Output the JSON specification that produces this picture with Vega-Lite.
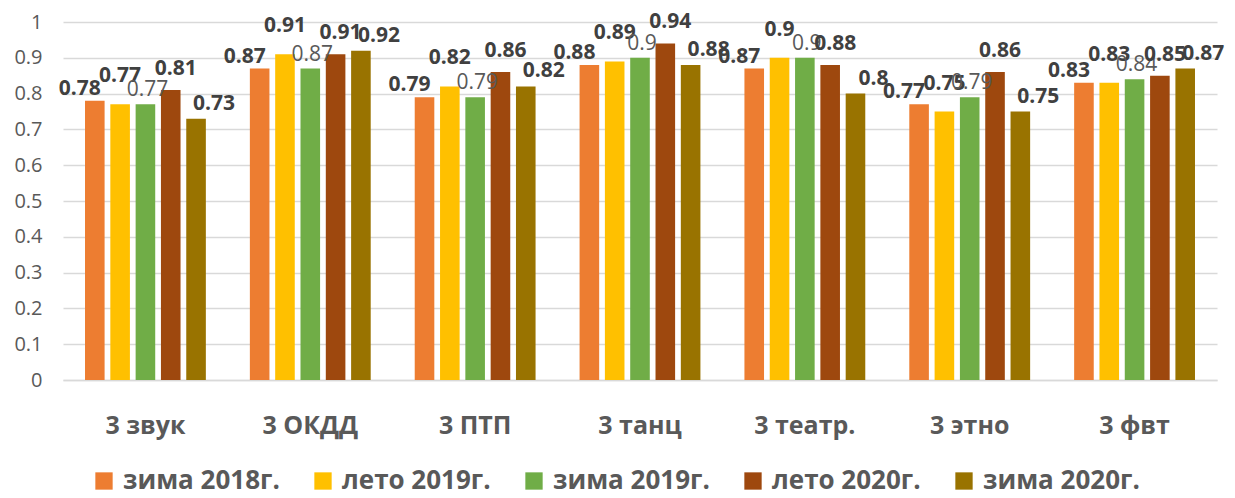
{
  "$schema": "https://vega.github.io/schema/vega-lite/v6.json",
  "width": 1154,
  "height": 358,
  "autosize": "none",
  "padding": {"left": 63, "top": 22, "right": 18, "bottom": 118},
  "background": "white",
  "config": {
    "font": "Open Sans",
    "view": {"stroke": null}
  },
  "data": {
    "values": [
      {"group": "3 звук", "series": "зима 2018г.", "value": 0.78},
      {"group": "3 звук", "series": "лето 2019г.", "value": 0.77},
      {"group": "3 звук", "series": "зима 2019г.", "value": 0.77},
      {"group": "3 звук", "series": "лето 2020г.", "value": 0.81},
      {"group": "3 звук", "series": "зима 2020г.", "value": 0.73},
      {"group": "3 ОКДД", "series": "зима 2018г.", "value": 0.87},
      {"group": "3 ОКДД", "series": "лето 2019г.", "value": 0.91},
      {"group": "3 ОКДД", "series": "зима 2019г.", "value": 0.87},
      {"group": "3 ОКДД", "series": "лето 2020г.", "value": 0.91},
      {"group": "3 ОКДД", "series": "зима 2020г.", "value": 0.92},
      {"group": "3 ПТП", "series": "зима 2018г.", "value": 0.79},
      {"group": "3 ПТП", "series": "лето 2019г.", "value": 0.82},
      {"group": "3 ПТП", "series": "зима 2019г.", "value": 0.79},
      {"group": "3 ПТП", "series": "лето 2020г.", "value": 0.86},
      {"group": "3 ПТП", "series": "зима 2020г.", "value": 0.82},
      {"group": "3 танц", "series": "зима 2018г.", "value": 0.88},
      {"group": "3 танц", "series": "лето 2019г.", "value": 0.89},
      {"group": "3 танц", "series": "зима 2019г.", "value": 0.9},
      {"group": "3 танц", "series": "лето 2020г.", "value": 0.94},
      {"group": "3 танц", "series": "зима 2020г.", "value": 0.88},
      {"group": "3 театр.", "series": "зима 2018г.", "value": 0.87},
      {"group": "3 театр.", "series": "лето 2019г.", "value": 0.9},
      {"group": "3 театр.", "series": "зима 2019г.", "value": 0.9},
      {"group": "3 театр.", "series": "лето 2020г.", "value": 0.88},
      {"group": "3 театр.", "series": "зима 2020г.", "value": 0.8},
      {"group": "3 этно", "series": "зима 2018г.", "value": 0.77},
      {"group": "3 этно", "series": "лето 2019г.", "value": 0.75},
      {"group": "3 этно", "series": "зима 2019г.", "value": 0.79},
      {"group": "3 этно", "series": "лето 2020г.", "value": 0.86},
      {"group": "3 этно", "series": "зима 2020г.", "value": 0.75},
      {"group": "3 фвт", "series": "зима 2018г.", "value": 0.83},
      {"group": "3 фвт", "series": "лето 2019г.", "value": 0.83},
      {"group": "3 фвт", "series": "зима 2019г.", "value": 0.84},
      {"group": "3 фвт", "series": "лето 2020г.", "value": 0.85},
      {"group": "3 фвт", "series": "зима 2020г.", "value": 0.87}
    ]
  },
  "encoding": {
    "x": {
      "field": "group",
      "type": "nominal",
      "sort": null,
      "title": null,
      "scale": {"paddingInner": 0.267, "paddingOuter": 0.1335},
      "axis": {
        "labelAngle": 0,
        "labelFont": "Open Sans",
        "labelFontSize": 25,
        "labelFontWeight": "bold",
        "labelColor": "#595959",
        "labelBaseline": "alphabetic",
        "labelPadding": 53,
        "ticks": false,
        "domain": true,
        "domainColor": "#d9d9d9",
        "domainWidth": 1.5
      }
    },
    "xOffset": {
      "field": "series",
      "type": "nominal",
      "sort": ["зима 2018г.", "лето 2019г.", "зима 2019г.", "лето 2020г.", "зима 2020г."],
      "scale": {"paddingInner": 0.226, "paddingOuter": 0}
    },
    "y": {
      "field": "value",
      "type": "quantitative",
      "title": null,
      "scale": {"domain": [0, 1], "nice": false},
      "axis": {
        "values": [0, 0.1, 0.2, 0.3, 0.4, 0.5, 0.6, 0.7, 0.8, 0.9, 1],
        "format": "~g",
        "labelFont": "Open Sans",
        "labelFontSize": 20,
        "labelColor": "#595959",
        "labelPadding": 21,
        "ticks": false,
        "domain": false,
        "grid": true,
        "gridColor": "#d9d9d9",
        "gridWidth": 1.5
      }
    }
  },
  "layer": [
    {
      "mark": {"type": "bar"},
      "encoding": {
        "color": {
          "field": "series",
          "type": "nominal",
          "sort": ["зима 2018г.", "лето 2019г.", "зима 2019г.", "лето 2020г.", "зима 2020г."],
          "scale": {
            "domain": ["зима 2018г.", "лето 2019г.", "зима 2019г.", "лето 2020г.", "зима 2020г."],
            "range": ["#ED7D31", "#FFC000", "#70AD47", "#9E480E", "#997300"]
          },
          "legend": {
            "title": null,
            "orient": "none",
            "direction": "horizontal",
            "legendX": 28,
            "legendY": 446,
            "padding": 0,
            "symbolType": "square",
            "symbolSize": 300,
            "symbolStrokeWidth": 0,
            "symbolOpacity": 1,
            "labelFont": "Open Sans",
            "labelFontSize": 26,
            "labelFontWeight": "bold",
            "labelColor": "#595959",
            "labelOffset": 6,
            "labelLimit": 400,
            "columnPadding": 30
          }
        }
      }
    },
    {
      "transform": [{"filter": "datum.series === 'зима 2018г.'"}],
      "mark": {"type": "text", "font": "Open Sans", "fontSize": 21, "fontWeight": "bold", "color": "#404040", "baseline": "alphabetic", "align": "center", "dx": -15, "dy": -6},
      "encoding": {"text": {"field": "value", "type": "quantitative", "format": "~g"}}
    },
    {
      "transform": [{"filter": "datum.series === 'лето 2019г.'"}],
      "mark": {"type": "text", "font": "Open Sans", "fontSize": 21, "fontWeight": "bold", "color": "#404040", "baseline": "alphabetic", "align": "center", "dx": 0, "dy": -22},
      "encoding": {"text": {"field": "value", "type": "quantitative", "format": "~g"}}
    },
    {
      "transform": [{"filter": "datum.series === 'зима 2019г.'"}],
      "mark": {"type": "text", "font": "Open Sans", "fontSize": 21, "fontWeight": "normal", "color": "#595959", "baseline": "alphabetic", "align": "center", "dx": 2, "dy": -8},
      "encoding": {"text": {"field": "value", "type": "quantitative", "format": "~g"}}
    },
    {
      "transform": [{"filter": "datum.series === 'лето 2020г.'"}],
      "mark": {"type": "text", "font": "Open Sans", "fontSize": 21, "fontWeight": "bold", "color": "#404040", "baseline": "alphabetic", "align": "center", "dx": 5, "dy": -15},
      "encoding": {"text": {"field": "value", "type": "quantitative", "format": "~g"}}
    },
    {
      "transform": [{"filter": "datum.series === 'зима 2020г.'"}],
      "mark": {"type": "text", "font": "Open Sans", "fontSize": 21, "fontWeight": "bold", "color": "#404040", "baseline": "alphabetic", "align": "center", "dx": 18, "dy": -9},
      "encoding": {"text": {"field": "value", "type": "quantitative", "format": "~g"}}
    }
  ]
}
